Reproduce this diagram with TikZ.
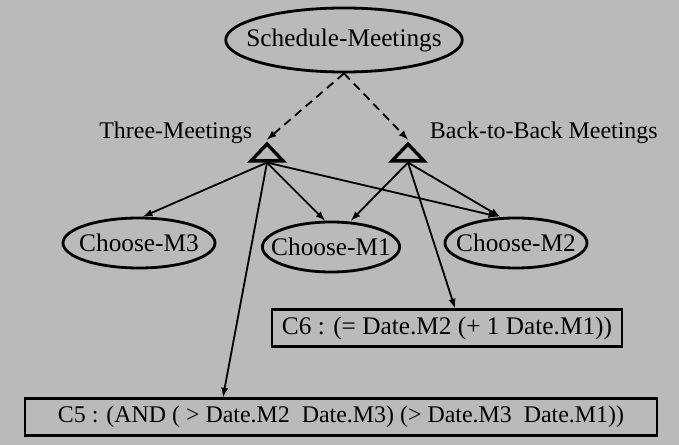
\documentclass[tikz,border=0pt]{standalone}
\usepackage{fontspec}
\setmainfont{Liberation Serif}
\usetikzlibrary{shapes.geometric}

\begin{document}
\begin{tikzpicture}[x=0.025cm, y=-0.025cm,
    every node/.style={font=\fontsize{17}{19}\selectfont},
    goal/.style={ellipse, draw, line width=2pt, inner ysep=0pt, inner xsep=-10pt},
    method/.style={isosceles triangle, isosceles triangle stretches, shape border rotate=90,
        draw, line width=2.4pt, inner sep=0pt, minimum width=0.8cm, minimum height=0.42cm},
    constr/.style={rectangle, draw, line width=2pt, inner sep=0pt, minimum height=0.92cm},
    link/.style={line width=1.3pt, -latex}]
    \fill[black!27] (0,0) rectangle (679,445);

    \node[goal, minimum width=5.8cm, minimum height=1.6cm, font=\fontsize{18}{20}\selectfont] (sched) at (344,40) {Schedule-Meetings};
    \node[method] (three) at (267,154) {};
    \node[method] (b2b) at (408,154) {};
    \node[anchor=east] (threelabel) at (257,133) {Three-Meetings};
    \node[anchor=west] (b2blabel) at (425,133) {Back-to-Back Meetings};

    \node[goal, minimum width=3.8cm, minimum height=1.25cm, font=\fontsize{18}{20}\selectfont] (m3) at (139,243) {Choose-M3};
    \node[goal, minimum width=3.43cm, minimum height=1.25cm, font=\fontsize{18}{20}\selectfont] (m1) at (331,247) {Choose-M1};
    \node[goal, minimum width=3.55cm, minimum height=1.25cm, font=\fontsize{18}{20}\selectfont] (m2) at (516,243) {Choose-M2};

    \node[constr, minimum width=8.75cm, font=\fontsize{18}{20}\selectfont] (c6) at (447,328) {C6 : (= Date.M2 (+ 1 Date.M1))};
    \node[constr, minimum width=15.8cm] (c5) at (341,417) {C5 : (AND ( > Date.M2\ \ Date.M3) (> Date.M3\ \ Date.M1))};

    % decomposition
    \draw[link, dashed, dash pattern=on 6pt off 4pt] (sched.south) -- (three.apex);
    \draw[link, dashed, dash pattern=on 6pt off 4pt] (sched.south) -- (b2b.apex);

    \draw[link] (three.south) -- ([xshift=0.1cm]m3.north);
    \draw[link] (three.south) -- ([xshift=-0.15cm]m1.north);
    \draw[link] (three.south) -- ([xshift=-0.45cm]m2.north);
    \draw[link] (three.south) -- ([xshift=-2.95cm]c5.north);
    \draw[link] (b2b.south) -- ([xshift=0.5cm]m1.north);
    \draw[link] (b2b.south) -- ([xshift=-0.4cm]m2.north);
    \draw[link] (b2b.south) -- ([xshift=0.2cm]c6.north);
\end{tikzpicture}
\end{document}
